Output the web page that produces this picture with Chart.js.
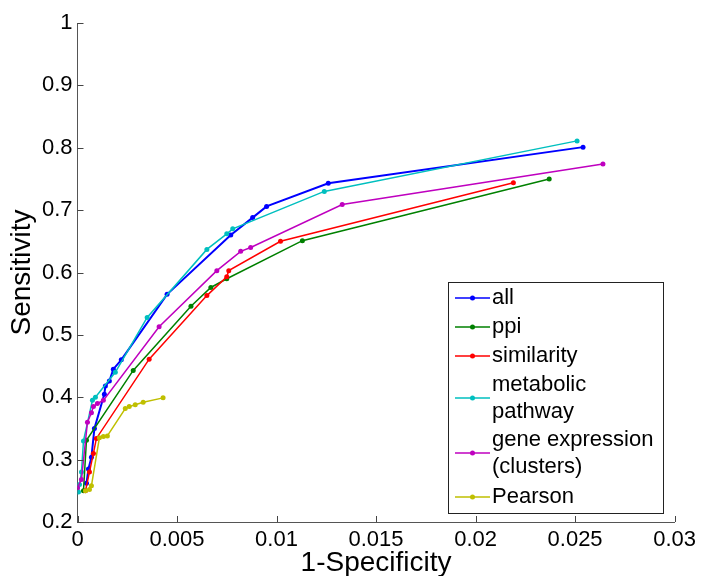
<!DOCTYPE html>
<html>
<head>
<meta charset="utf-8">
<script src="https://cdn.jsdelivr.net/npm/chart.js@4/dist/chart.umd.min.js"></script>
<style>
  body { margin: 0; background: #fff; }
  #wrap { width: 701px; height: 576px; }
</style>
</head>
<body>
<div id="wrap"><canvas id="roc"></canvas></div>
<script>
// ROC curves, values
const labels = ['all', 'ppi', 'similarity', 'metabolic\npathway', 'gene expression\n(clusters)', 'Pearson'];
const colors = ['#0000ff', '#008000', '#ff0000', '#00bfbf', '#bf00bf', '#bfbf00'];

const allX = [0.00045, 0.00055, 0.0007, 0.00085, 0.00135, 0.0014, 0.0016, 0.0018, 0.0022, 0.0045, 0.0077, 0.0088, 0.0095, 0.0126, 0.0254];
const allY = [0.262, 0.285, 0.304, 0.35, 0.405, 0.418, 0.426, 0.445, 0.46, 0.565, 0.66, 0.688, 0.706, 0.743, 0.801];

const ppiX = [0.0003, 0.00045, 0.0028, 0.0057, 0.0067, 0.0075, 0.0113, 0.0237];
const ppiY = [0.25, 0.331, 0.443, 0.546, 0.576, 0.59, 0.651, 0.75];

const simX = [0.0004, 0.0006, 0.0008, 0.00095, 0.0036, 0.0065, 0.0075, 0.0076, 0.0102, 0.0219];
const simY = [0.25, 0.28, 0.31, 0.334, 0.461, 0.563, 0.593, 0.603, 0.65, 0.744];

const metX = [0.00005, 0.0001, 0.0002, 0.0003, 0.00075, 0.0009, 0.0019, 0.0035, 0.0065, 0.0075, 0.0078, 0.0124, 0.0251];
const metY = [0.248, 0.26, 0.28, 0.33, 0.395, 0.40, 0.44, 0.528, 0.637, 0.662, 0.67, 0.73, 0.811];

const geneX = [0.0, 0.0002, 0.0005, 0.0007, 0.0008, 0.001, 0.0013, 0.0041, 0.007, 0.0082, 0.0087, 0.0133, 0.0264];
const geneY = [0.255, 0.268, 0.36, 0.375, 0.385, 0.39, 0.395, 0.513, 0.603, 0.634, 0.64, 0.709, 0.774];

const pearX = [0.0004, 0.0006, 0.0007, 0.0011, 0.0013, 0.0015, 0.0024, 0.0026, 0.0029, 0.0033, 0.0043];
const pearY = [0.25, 0.252, 0.258, 0.335, 0.337, 0.338, 0.382, 0.385, 0.388, 0.392, 0.399];

const xs = [allX, ppiX, simX, metX, geneX, pearX];
const ys = [allY, ppiY, simY, metY, geneY, pearY];

const fontFam = '"Liberation Sans", Arial, sans-serif';

const datasets = labels.map((lab, i) => ({
  label: lab,
  data: xs[i].map((x, j) => ({ x: x, y: ys[i][j] })),
  borderColor: colors[i],
  backgroundColor: colors[i],
  borderWidth: i === 0 ? 2 : 1.5,
  pointRadius: 2.5,
  pointBorderWidth: 0,
  pointHoverRadius: 2.5,
  showLine: true,
  order: labels.length - i
}));

// matlab style ticks pointing into the plot
const innerTicks = {
  id: 'innerTicks',
  afterDatasetsDraw(chart) {
    const c = chart.ctx, a = chart.chartArea;
    const sx = chart.scales.x, sy = chart.scales.y;
    c.save();
    c.strokeStyle = '#444';
    c.lineWidth = 1;
    c.beginPath();
    sx.ticks.forEach(t => {
      const px = Math.round(sx.getPixelForValue(t.value)) + 0.5;
      c.moveTo(px, a.bottom);
      c.lineTo(px, a.bottom - 6);
    });
    sy.ticks.forEach(t => {
      const py = Math.round(sy.getPixelForValue(t.value)) + 0.5;
      c.moveTo(a.left, py);
      c.lineTo(a.left + 6, py);
    });
    c.stroke();
    c.restore();
  }
};

// legend box with two-line entries
const boxLegend = {
  id: 'boxLegend',
  afterDraw(chart) {
    const c = chart.ctx;
    const bx = 448.5, by = 282.5, bw = 215, bh = 231;
    const rows = [298, 327, 356, 398, 453, 497];
    const lh = 27;
    c.save();
    c.fillStyle = '#fff';
    c.fillRect(bx, by, bw, bh);
    c.strokeStyle = '#222';
    c.lineWidth = 1;
    c.strokeRect(bx, by, bw, bh);
    c.font = '22px ' + fontFam;
    c.textBaseline = 'middle';
    c.textAlign = 'left';
    chart.data.datasets.forEach((ds, i) => {
      const yy = rows[i];
      c.strokeStyle = ds.borderColor;
      c.lineWidth = 1.5;
      c.beginPath();
      c.moveTo(455, yy);
      c.lineTo(490, yy);
      c.stroke();
      c.fillStyle = ds.borderColor;
      c.beginPath();
      c.arc(472.5, yy, 2.5, 0, Math.PI * 2);
      c.fill();
      const parts = ds.label.split('\n');
      c.fillStyle = '#000';
      parts.forEach((p, k) => {
        c.fillText(p, 492, yy + (k - (parts.length - 1) / 2) * lh);
      });
    });
    c.restore();
  }
};

new Chart(document.getElementById('roc'), {
  type: 'scatter',
  data: { datasets: datasets },
  options: {
    responsive: true,
    maintainAspectRatio: false,
    animation: false,
    layout: { padding: { top: 23, right: 25, bottom: 0, left: 0 } },
    plugins: { legend: { display: false }, tooltip: { enabled: false } },
    scales: {
      x: {
        type: 'linear',
        min: 0,
        max: 0.03,
        afterFit: s => { s.height = 54; },
        ticks: {
          stepSize: 0.005,
          padding: 5,
          color: '#000',
          font: { family: fontFam, size: 22 },
          maxRotation: 0,
          callback: v => String(+v.toFixed(3))
        },
        grid: { drawOnChartArea: false, drawTicks: false },
        border: { color: '#555', width: 1 },
        title: {
          display: true,
          text: '1-Specificity',
          color: '#000',
          font: { family: fontFam, size: 28 },
          padding: { top: 0, bottom: -4 }
        }
      },
      y: {
        type: 'linear',
        min: 0.2,
        max: 1,
        afterFit: s => { s.width = 77.5; },
        ticks: {
          stepSize: 0.1,
          padding: 5,
          color: '#000',
          font: { family: fontFam, size: 22 },
          callback: v => String(+v.toFixed(1))
        },
        grid: { drawOnChartArea: false, drawTicks: false },
        border: { color: '#555', width: 1 },
        title: {
          display: true,
          text: 'Sensitivity',
          color: '#000',
          font: { family: fontFam, size: 28 },
          padding: { top: 5, bottom: 0 }
        }
      }
    }
  },
  plugins: [innerTicks, boxLegend]
});
</script>
</body>
</html>
